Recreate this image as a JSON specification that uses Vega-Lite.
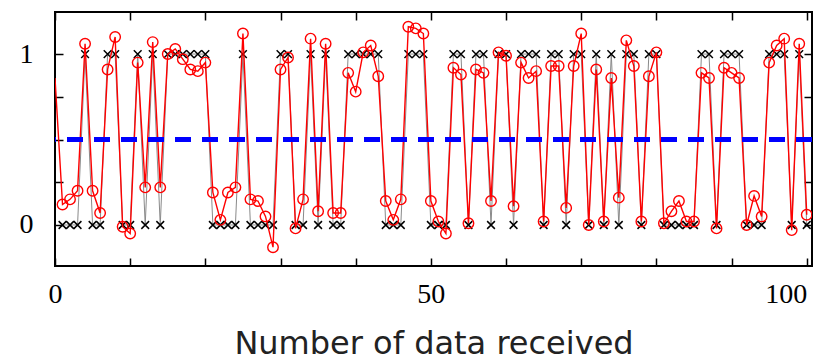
{
  "$schema": "https://vega.github.io/schema/vega-lite/v6.json",
  "width": 757,
  "height": 254,
  "autosize": {"type": "none"},
  "padding": {"left": 55, "top": 12, "right": 6, "bottom": 94},
  "background": "#ffffff",
  "config": {
    "view": {"stroke": "#000000", "strokeWidth": 2},
    "axis": {
      "domain": false,
      "grid": false,
      "tickColor": "#000000",
      "tickWidth": 1.5,
      "tickSize": -8,
      "labelFont": "Liberation Serif",
      "labelFontSize": 28,
      "labelColor": "#000000",
      "labelFlush": false,
      "titleFont": "DejaVu Sans",
      "titleFontSize": 32,
      "titleFontWeight": "normal",
      "titleColor": "#222222"
    }
  },
  "data": {
    "values": [
      {"x": 0, "est": 0.86, "bin": 1},
      {"x": 1, "est": 0.12, "bin": 0},
      {"x": 2, "est": 0.15, "bin": 0},
      {"x": 3, "est": 0.2, "bin": 0},
      {"x": 4, "est": 1.06, "bin": 1},
      {"x": 5, "est": 0.2, "bin": 0},
      {"x": 6, "est": 0.07, "bin": 0},
      {"x": 7, "est": 0.91, "bin": 1},
      {"x": 8, "est": 1.1, "bin": 1},
      {"x": 9, "est": -0.01, "bin": 0},
      {"x": 10, "est": -0.05, "bin": 0},
      {"x": 11, "est": 0.95, "bin": 1},
      {"x": 12, "est": 0.22, "bin": 0},
      {"x": 13, "est": 1.07, "bin": 1},
      {"x": 14, "est": 0.22, "bin": 0},
      {"x": 15, "est": 1.0, "bin": 1},
      {"x": 16, "est": 1.03, "bin": 1},
      {"x": 17, "est": 0.97, "bin": 1},
      {"x": 18, "est": 0.91, "bin": 1},
      {"x": 19, "est": 0.9, "bin": 1},
      {"x": 20, "est": 0.95, "bin": 1},
      {"x": 21, "est": 0.19, "bin": 0},
      {"x": 22, "est": 0.03, "bin": 0},
      {"x": 23, "est": 0.19, "bin": 0},
      {"x": 24, "est": 0.22, "bin": 0},
      {"x": 25, "est": 1.12, "bin": 1},
      {"x": 26, "est": 0.15, "bin": 0},
      {"x": 27, "est": 0.14, "bin": 0},
      {"x": 28, "est": 0.05, "bin": 0},
      {"x": 29, "est": -0.13, "bin": 0},
      {"x": 30, "est": 0.91, "bin": 1},
      {"x": 31, "est": 0.98, "bin": 1},
      {"x": 32, "est": -0.02, "bin": 0},
      {"x": 33, "est": 0.15, "bin": 0},
      {"x": 34, "est": 1.09, "bin": 1},
      {"x": 35, "est": 0.08, "bin": 0},
      {"x": 36, "est": 1.06, "bin": 1},
      {"x": 37, "est": 0.07, "bin": 0},
      {"x": 38, "est": 0.07, "bin": 0},
      {"x": 39, "est": 0.89, "bin": 1},
      {"x": 40, "est": 0.78, "bin": 1},
      {"x": 41, "est": 1.01, "bin": 1},
      {"x": 42, "est": 1.05, "bin": 1},
      {"x": 43, "est": 0.87, "bin": 1},
      {"x": 44, "est": 0.14, "bin": 0},
      {"x": 45, "est": 0.03, "bin": 0},
      {"x": 46, "est": 0.15, "bin": 0},
      {"x": 47, "est": 1.16, "bin": 1},
      {"x": 48, "est": 1.15, "bin": 1},
      {"x": 49, "est": 1.12, "bin": 1},
      {"x": 50, "est": 0.14, "bin": 0},
      {"x": 51, "est": 0.02, "bin": 0},
      {"x": 52, "est": -0.05, "bin": 0},
      {"x": 53, "est": 0.92, "bin": 1},
      {"x": 54, "est": 0.88, "bin": 1},
      {"x": 55, "est": 0.01, "bin": 0},
      {"x": 56, "est": 0.91, "bin": 1},
      {"x": 57, "est": 0.89, "bin": 1},
      {"x": 58, "est": 0.14, "bin": 0},
      {"x": 59, "est": 1.01, "bin": 1},
      {"x": 60, "est": 0.99, "bin": 1},
      {"x": 61, "est": 0.11, "bin": 0},
      {"x": 62, "est": 0.95, "bin": 1},
      {"x": 63, "est": 0.86, "bin": 1},
      {"x": 64, "est": 0.9, "bin": 1},
      {"x": 65, "est": 0.02, "bin": 0},
      {"x": 66, "est": 0.93, "bin": 1},
      {"x": 67, "est": 0.93, "bin": 1},
      {"x": 68, "est": 0.1, "bin": 0},
      {"x": 69, "est": 0.93, "bin": 1},
      {"x": 70, "est": 1.12, "bin": 1},
      {"x": 71, "est": 0.0, "bin": 0},
      {"x": 72, "est": 0.91, "bin": 1},
      {"x": 73, "est": 0.02, "bin": 0},
      {"x": 74, "est": 0.86, "bin": 1},
      {"x": 75, "est": 0.16, "bin": 0},
      {"x": 76, "est": 1.08, "bin": 1},
      {"x": 77, "est": 0.93, "bin": 1},
      {"x": 78, "est": 0.02, "bin": 0},
      {"x": 79, "est": 0.87, "bin": 1},
      {"x": 80, "est": 1.01, "bin": 1},
      {"x": 81, "est": 0.01, "bin": 0},
      {"x": 82, "est": 0.08, "bin": 0},
      {"x": 83, "est": 0.14, "bin": 0},
      {"x": 84, "est": 0.02, "bin": 0},
      {"x": 85, "est": 0.02, "bin": 0},
      {"x": 86, "est": 0.89, "bin": 1},
      {"x": 87, "est": 0.86, "bin": 1},
      {"x": 88, "est": -0.02, "bin": 0},
      {"x": 89, "est": 0.92, "bin": 1},
      {"x": 90, "est": 0.89, "bin": 1},
      {"x": 91, "est": 0.86, "bin": 1},
      {"x": 92, "est": 0.0, "bin": 0},
      {"x": 93, "est": 0.17, "bin": 0},
      {"x": 94, "est": 0.05, "bin": 0},
      {"x": 95, "est": 0.95, "bin": 1},
      {"x": 96, "est": 1.05, "bin": 1},
      {"x": 97, "est": 1.09, "bin": 1},
      {"x": 98, "est": -0.03, "bin": 0},
      {"x": 99, "est": 1.06, "bin": 1},
      {"x": 100, "est": 0.06, "bin": 0}
    ]
  },
  "resolve": {"axis": {"x": "independent", "y": "independent"}},
  "layer": [
    {
      "transform": [{"filter": "datum.x >= 1"}],
      "mark": {"type": "line", "color": "#8a8a8a", "strokeWidth": 1, "clip": true},
      "encoding": {
        "x": {
          "field": "x", "type": "quantitative",
          "scale": {"domain": [0, 100.7], "nice": false, "zero": false},
          "axis": {
            "orient": "bottom",
            "values": [0, 10, 20, 30, 40, 50, 60, 70, 80, 90, 100],
            "labelExpr": "datum.value % 50 == 0 ? datum.label : ''",
            "labelAlign": {"condition": {"test": "datum.value == 100", "value": "right"}, "value": "center"},
            "labelPadding": 22,
            "title": "Number of data received",
            "titlePadding": 20
          }
        },
        "y": {
          "field": "bin", "type": "quantitative",
          "scale": {"domain": [-0.24, 1.246], "nice": false, "zero": false},
          "axis": {
            "orient": "left",
            "values": [0, 0.25, 0.5, 0.75, 1],
            "labelExpr": "datum.value == 0 ? '0' : (datum.value == 1 ? '1' : '')",
            "labelPadding": 30,
            "title": null
          }
        }
      }
    },
    {
      "transform": [{"filter": "datum.x >= 1"}],
      "mark": {"type": "point", "shape": "M-1,-1L1,1M-1,1L1,-1", "filled": false, "stroke": "#000000", "strokeWidth": 1.5, "size": 60, "opacity": 1, "clip": true},
      "encoding": {
        "x": {
          "field": "x", "type": "quantitative",
          "axis": {
            "orient": "top",
            "values": [0, 10, 20, 30, 40, 50, 60, 70, 80, 90, 100],
            "labels": false,
            "title": null
          }
        },
        "y": {
          "field": "bin", "type": "quantitative",
          "axis": {
            "orient": "right",
            "values": [0, 0.25, 0.5, 0.75, 1],
            "labels": false,
            "title": null
          }
        }
      }
    },
    {
      "mark": {"type": "line", "color": "#ff0000", "strokeWidth": 1.4, "clip": true},
      "encoding": {
        "x": {"field": "x", "type": "quantitative", "axis": null},
        "y": {"field": "est", "type": "quantitative", "axis": null}
      }
    },
    {
      "transform": [{"filter": "datum.x >= 1"}],
      "mark": {"type": "point", "shape": "circle", "filled": false, "stroke": "#ff0000", "strokeWidth": 1.4, "size": 110, "opacity": 1, "clip": true},
      "encoding": {
        "x": {"field": "x", "type": "quantitative", "axis": null},
        "y": {"field": "est", "type": "quantitative", "axis": null}
      }
    },
    {
      "mark": {"type": "rule", "color": "#0000ff", "strokeWidth": 5, "strokeDash": [16, 11]},
      "encoding": {
        "y": {"datum": 0.5, "type": "quantitative", "axis": null}
      }
    }
  ]
}
